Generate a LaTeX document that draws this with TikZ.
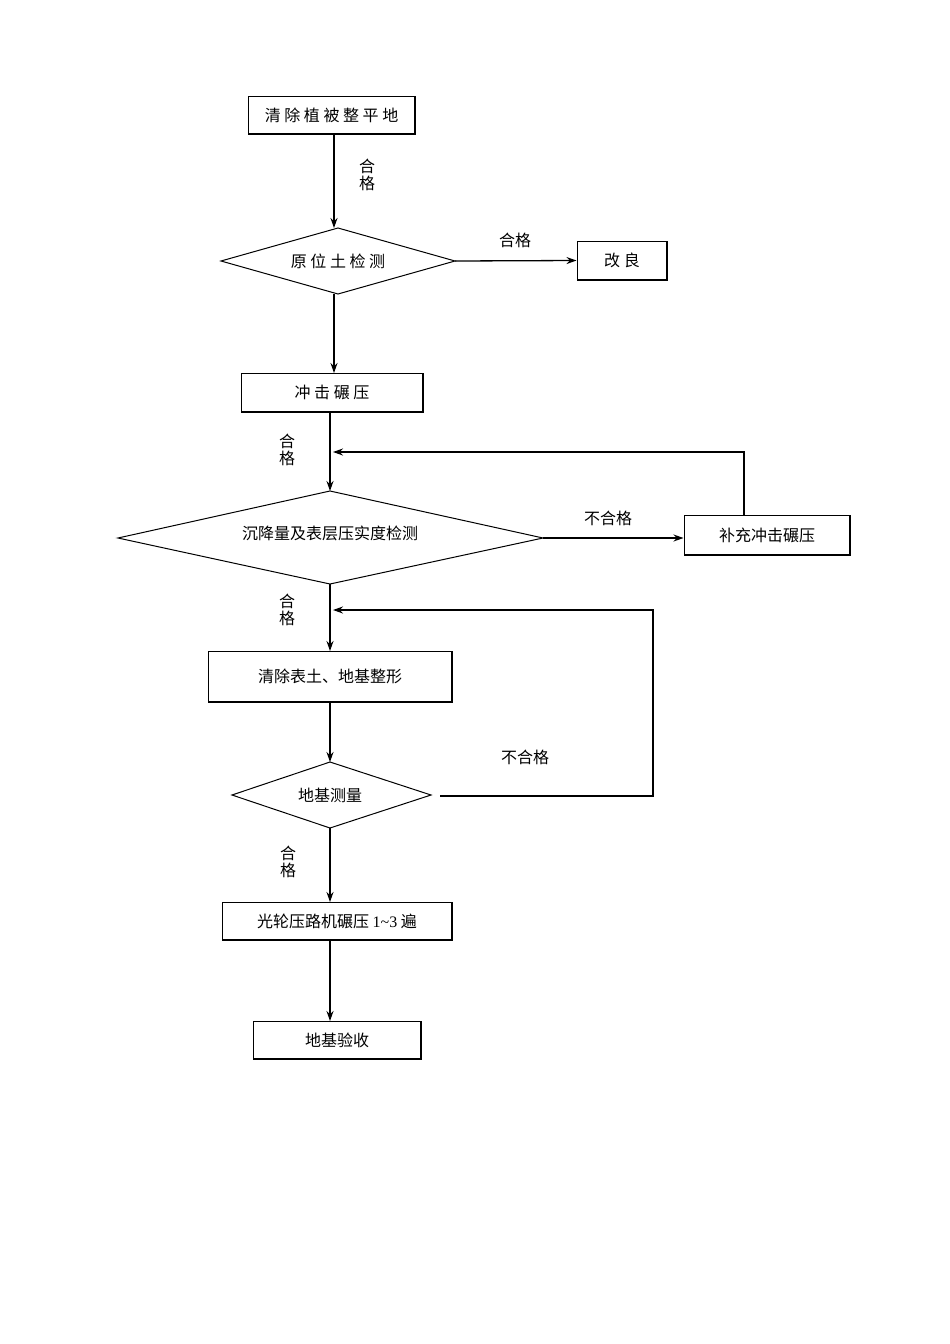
\documentclass[tikz,border=0pt]{standalone}
\usepackage{fontspec}
\setmainfont{Liberation Serif}
\newfontfamily\cjk{Noto Sans CJK SC}
\usetikzlibrary{shapes.geometric,arrows.meta}
\begin{document}
\begin{tikzpicture}[x=1pt,y=-1pt,font=\cjk\fontsize{16}{18}\selectfont,
 box/.style={draw,line width=1pt,minimum width=#1,inner sep=0pt},
 sh/.style={line width=2pt},
 arr/.style={-{Stealth[length=10pt,width=7pt]},line width=1.3pt},
 ln/.style={line width=1pt},
 lab/.style={align=center,inner sep=0pt,font=\cjk\fontsize{16}{17}\selectfont}]
\useasboundingbox (0,0) rectangle (950,1344);
\newcommand{\bx}[6]{\node[box=#4-#2,minimum height=#5-#3] (#1) at ({(#2+#4)/2},{(#3+#5)/2}) {#6};
 \draw[sh] (#2+1,#5) -- (#4,#5) -- (#4,#3+1);}
\bx{b1}{248}{96}{415}{134}{清 除 植 被 整 平 地}
\bx{g}{577}{241}{667}{280}{改 良}
\bx{b2}{241}{373}{423}{412}{冲 击 碾 压}
\bx{bc}{684}{515}{850}{555}{补充冲击碾压}
\bx{b3}{208}{651}{452}{702}{清除表土、地基整形}
\bx{b4}{222}{902}{452}{940}{光轮压路机碾压 {\fontspec{Liberation Serif}1\textasciitilde3} 遍}
\bx{b5}{253}{1021}{421}{1059}{地基验收}
\draw[ln] (221,261) -- (338,228) -- (455,261) -- (338,294) -- cycle;
\node (d1) at (338,261) {原 位 土 检 测};
\draw[ln] (118,538) -- (330,491) -- (543,538) -- (330,584) -- cycle;
\node (d2) at (330,533) {沉降量及表层压实度检测};
\draw[ln] (232,795) -- (330,762) -- (431,795) -- (330,828) -- cycle;
\node (d3) at (330,795) {地基测量};
\coordinate (d1t) at (334,228); \coordinate (d1b) at (334,294);
\coordinate (d1r) at (455,261);
\coordinate (d2t) at (330,491); \coordinate (d2b) at (330,584); \coordinate (d2r) at (543,538);
\coordinate (d3t) at (330,762); \coordinate (d3b) at (330,828); \coordinate (d3r) at (440,796);
\draw[arr] (334,134) -- (d1t);
\draw[arr] (d1r) -- (g.west);
\draw[arr] (d1b) -- (334,373);
\draw[arr] (330,412) -- (d2t);
\draw[arr] (d2r) -- (bc.west |- d2r);
\coordinate (f1) at (333,452);
\draw[arr] (744,515) -- (744,452) -- (f1);
\draw[arr] (d2b) -- (330,651);
\draw[arr] (330,702) -- (d3t);
\coordinate (f2) at (333,610);
\draw[arr] (d3r) -- (653,796) -- (653,610) -- (f2);
\draw[arr] (d3b) -- (330,902);
\draw[arr] (330,940) -- (330,1021);
\node[lab] at (367,175) {合\\格};
\node[lab] at (515,240) {合格};
\node[lab] at (287,450) {合\\格};
\node[lab] at (608,518) {不合格};
\node[lab] at (287,610) {合\\格};
\node[lab] at (525,757) {不合格};
\node[lab] at (288,862) {合\\格};
\end{tikzpicture}
\end{document}
